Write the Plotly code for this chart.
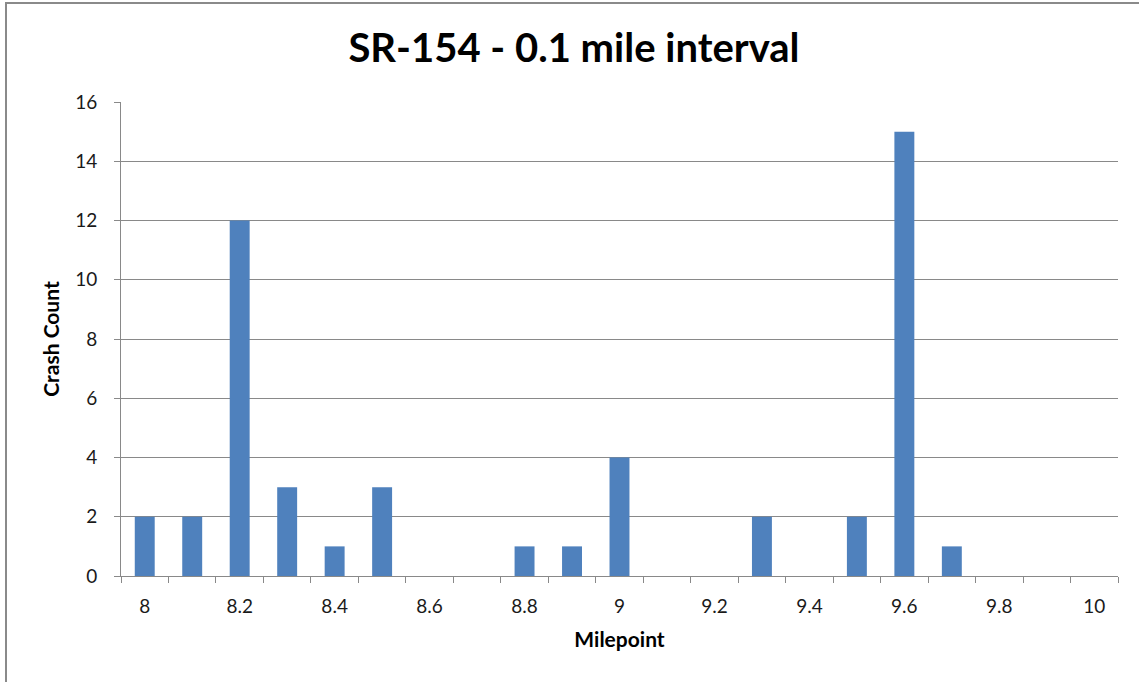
import plotly.graph_objects as go

# Crash counts per 0.1-mile segment along SR-154
milepoints = [8.0, 8.1, 8.2, 8.3, 8.4, 8.5, 8.6, 8.7, 8.8, 8.9, 9.0,
              9.1, 9.2, 9.3, 9.4, 9.5, 9.6, 9.7, 9.8, 9.9, 10.0]
crash_counts = [2, 2, 12, 3, 1, 3, 0, 0, 1, 1, 4,
                0, 0, 2, 0, 2, 15, 1, 0, 0, 0]
x_tick_values = [8.0, 8.2, 8.4, 8.6, 8.8, 9.0, 9.2, 9.4, 9.6, 9.8, 10.0]
x_tick_labels = ["8", "8.2", "8.4", "8.6", "8.8", "9", "9.2", "9.4", "9.6", "9.8", "10"]
y_tick_values = [0, 2, 4, 6, 8, 10, 12, 14, 16]

W, H = 1139, 682
ML, MR, MT, MB = 121, 21, 102, 106
PW, PH = W - ML - MR, H - MT - MB

FONT = "Lato"
GRID = "#898989"
TEXT = "#1a1a1a"

fig = go.Figure(
    go.Bar(
        x=milepoints,
        y=crash_counts,
        width=0.042,
        marker=dict(color="#4F81BD", line=dict(width=0)),
    )
)

# outer chart frame (left and top edges visible)
bx0 = (6 - ML) / PW
by1 = 1 + (MT - 3) / PH
fig.add_shape(type="rect", xref="paper", yref="paper",
              x0=bx0, x1=1.1, y0=-0.4, y1=by1,
              line=dict(color="#8a8a8a", width=2), layer="below")

fig.update_layout(
    width=W, height=H,
    margin=dict(l=ML, r=MR, t=MT, b=MB),
    paper_bgcolor="white", plot_bgcolor="white",
    showlegend=False,
    title=dict(text="<b>SR-154 - 0.1 mile interval</b>",
               font=dict(family=FONT, size=40, color="#000000"),
               x=(574 - ML) / PW, xref="paper", xanchor="center",
               y=1 - 48 / H, yanchor="middle"),
    font=dict(family=FONT, color=TEXT),
)

fig.update_xaxes(
    range=[7.95, 10.05],
    tickmode="array", tickvals=x_tick_values, ticktext=x_tick_labels,
    ticks="", tickfont=dict(family=FONT, size=19, color=TEXT),
    ticklabelstandoff=13,
    minor=dict(tickmode="linear", tick0=7.95, dtick=0.1, ticks="outside",
               ticklen=6, tickcolor=GRID, tickwidth=1, showgrid=False),
    showgrid=False, zeroline=False,
    showline=True, linecolor=GRID, linewidth=1,
    title=dict(text="<b>Milepoint</b>", font=dict(family=FONT, size=21, color="#000000"),
               standoff=16),
)

fig.update_yaxes(
    range=[0, 16],
    tickmode="array", tickvals=y_tick_values,
    ticks="outside", ticklen=6, tickcolor=GRID, tickwidth=1,
    tickfont=dict(family=FONT, size=19, color=TEXT),
    ticklabelstandoff=13,
    showgrid=True, gridcolor=GRID, gridwidth=1,
    zeroline=False,
    showline=True, linecolor=GRID, linewidth=1,
    title=dict(text="<b>Crash Count</b>", font=dict(family=FONT, size=21, color="#000000"),
               standoff=9),
)

fig.write_html("out.html")
